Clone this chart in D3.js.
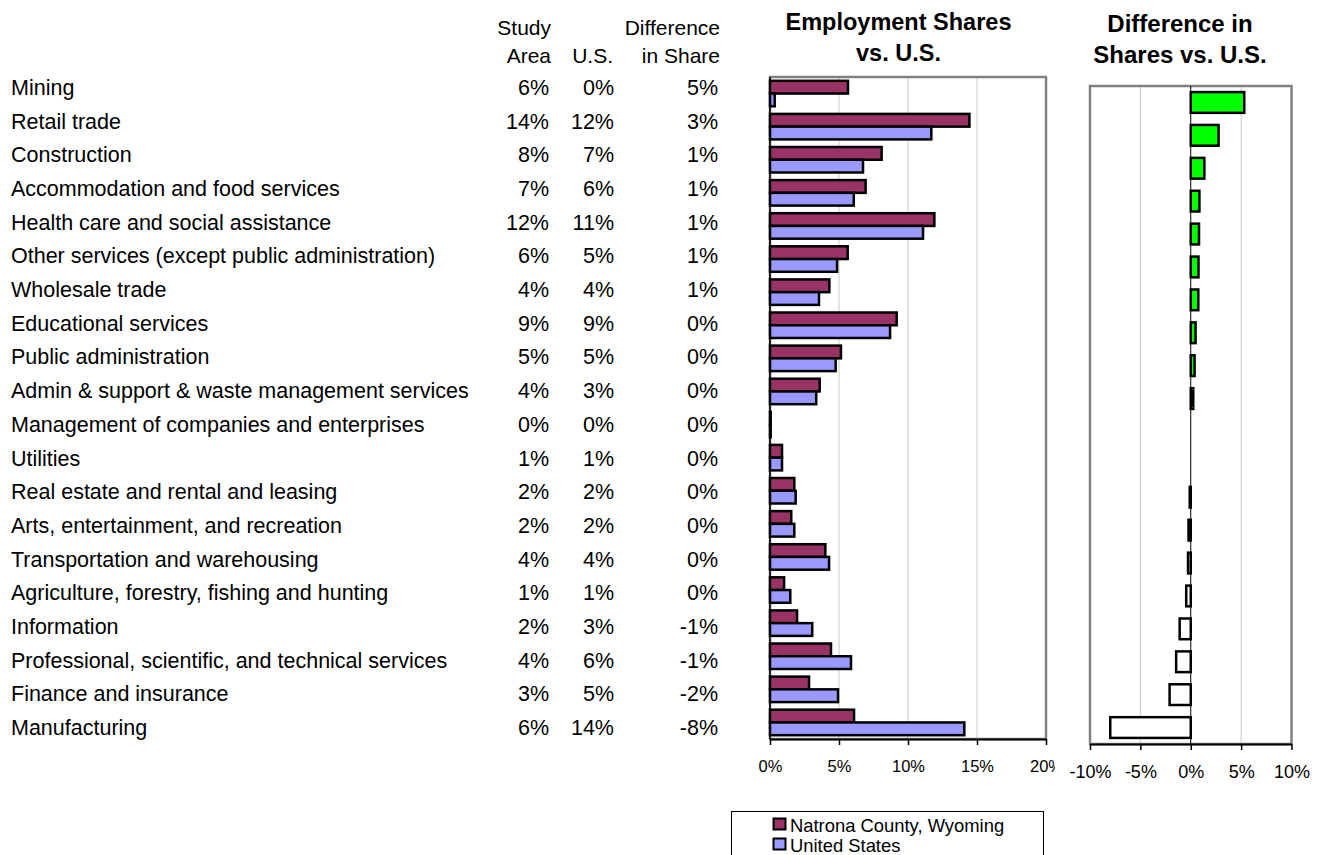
<!DOCTYPE html>
<html>
<head>
<meta charset="utf-8">
<script src="https://cdn.jsdelivr.net/npm/d3@7"></script>
<style>
  html, body { margin: 0; padding: 0; background: #ffffff; }
  svg { display: block; font-family: "Liberation Sans", Arial, Helvetica, sans-serif; }
</style>
</head>
<body>
<script>
// ---------------- DATA ----------------
const categories = [
  "Mining",
  "Retail trade",
  "Construction",
  "Accommodation and food services",
  "Health care and social assistance",
  "Other services (except public administration)",
  "Wholesale trade",
  "Educational services",
  "Public administration",
  "Admin & support & waste management services",
  "Management of companies and enterprises",
  "Utilities",
  "Real estate and rental and leasing",
  "Arts, entertainment, and recreation",
  "Transportation and warehousing",
  "Agriculture, forestry, fishing and hunting",
  "Information",
  "Professional, scientific, and technical services",
  "Finance and insurance",
  "Manufacturing"
];
// employment shares, percent
const studyArea = [5.65, 14.45, 8.09, 6.93, 11.91, 5.63, 4.30, 9.18, 5.14, 3.60, 0.05, 0.87, 1.76, 1.54, 4.01, 1.02, 1.96, 4.42, 2.83, 6.09];
const unitedStates = [0.34, 11.69, 6.74, 6.07, 11.09, 4.86, 3.55, 8.70, 4.76, 3.35, 0.05, 0.87, 1.86, 1.76, 4.28, 1.47, 3.06, 5.87, 4.93, 14.08];

const seriesNames = ["Natrona County, Wyoming", "United States"];
const sharesTicks = [0, 5, 10, 15, 20];
const diffTicks = [-10, -5, 0, 5, 10];
const colHeaders = [["Study", "Area"], ["", "U.S."], ["Difference", "in Share"]];
const titleShares = ["Employment Shares", "vs. U.S."];
const titleDiff = ["Difference in", "Shares vs. U.S."];

// ---------------- DRAW ----------------
const W = 1319, H = 855;
const svg = d3.select("body").append("svg").attr("width", W).attr("height", H);

const rows = categories.map((c, i) => ({
  cat: c, study: studyArea[i], us: unitedStates[i], diff: studyArea[i] - unitedStates[i]
}));
const pct = v => { const r = Math.round(v); return (r === 0 ? 0 : r) + "%"; };
const tickPct = d => d + "%";

// ---- table ----
const rowY = d3.scaleLinear().domain([0, categories.length - 1]).range([95, 735]);
const colX = [549, 614, 718];
const headX = [551, 613, 720];
const table = svg.append("g").attr("font-size", 21.5).attr("fill", "#000");

colHeaders.forEach((lines, j) => {
  lines.forEach((t, k) => {
    if (!t) return;
    table.append("text").attr("x", headX[j]).attr("y", 35 + k * 28.3)
      .attr("text-anchor", "end").attr("font-size", 21).text(t);
  });
});

table.selectAll("text.lab").data(rows).join("text").attr("class", "lab")
  .attr("x", 11).attr("y", (d, i) => rowY(i)).text(d => d.cat);

[["study", 0], ["us", 1], ["diff", 2]].forEach(([key, j]) => {
  table.selectAll("text.c" + j).data(rows).join("text").attr("class", "c" + j)
    .attr("x", colX[j]).attr("y", (d, i) => rowY(i)).attr("text-anchor", "end")
    .text(d => pct(d[key]));
});

// ---- left chart: shares ----
const L = { x0: 770, x1: 1046, y0: 77, y1: 739 };
const xL = d3.scaleLinear().domain([0, 20]).range([L.x0, L.x1]);
const yL = d3.scaleBand().domain(categories).range([L.y0, L.y1]).paddingInner(0.23).paddingOuter(0.115);
const ySub = d3.scaleBand().domain(["study", "us"]).range([0, yL.bandwidth()]);
const colors = { study: "#993366", us: "#9999FF" };

const gL = svg.append("g");
gL.append("g").selectAll("line").data(sharesTicks.filter(t => t > 0 && t < 20)).join("line")
  .attr("x1", d => xL(d)).attr("x2", d => xL(d)).attr("y1", L.y0).attr("y2", L.y1)
  .attr("stroke", "#c8c8c8").attr("stroke-width", 1);
gL.append("rect").attr("x", L.x0).attr("y", L.y0).attr("width", L.x1 - L.x0).attr("height", L.y1 - L.y0)
  .attr("fill", "none").attr("stroke", "#808080").attr("stroke-width", 2.5);

["study", "us"].forEach(k => {
  gL.append("g").selectAll("rect").data(rows).join("rect")
    .attr("x", xL(0)).attr("y", d => yL(d.cat) + ySub(k))
    .attr("width", d => xL(d[k]) - xL(0)).attr("height", ySub.bandwidth())
    .attr("fill", colors[k]).attr("stroke", "#000").attr("stroke-width", 2.5);
});
gL.append("line").attr("x1", L.x0).attr("x2", L.x0).attr("y1", L.y0).attr("y2", L.y1)
  .attr("stroke", "#000").attr("stroke-width", 1.5);

svg.append("clipPath").attr("id", "clipL").append("rect")
  .attr("x", 700).attr("y", -5).attr("width", 355).attr("height", 60);
const axL = gL.append("g").attr("transform", `translate(0,${L.y1})`).attr("clip-path", "url(#clipL)")
  .call(d3.axisBottom(xL).tickValues(sharesTicks).tickFormat(tickPct).tickSize(6).tickSizeOuter(0));
axL.select(".domain").attr("stroke", "#000").attr("stroke-width", 2);
axL.selectAll(".tick line").attr("stroke", "#000").attr("stroke-width", 1.5);
axL.selectAll(".tick text").attr("y", 33).attr("dy", null).attr("font-size", 16.5)
  .attr("font-family", "Liberation Sans, Arial, sans-serif").attr("fill", "#000");

gL.append("g").selectAll("text").data(titleShares).join("text")
  .attr("x", 898.5).attr("y", (d, i) => 29.5 + i * 31.5).attr("text-anchor", "middle")
  .attr("font-size", 23.5).attr("font-weight", "bold").text(d => d);

// ---- right chart: difference ----
const R = { x0: 1090, x1: 1291.5, y0: 86, y1: 744 };
const xR = d3.scaleLinear().domain([-10, 10]).range([R.x0, R.x1]);
const yR = d3.scaleBand().domain(categories).range([R.y0, R.y1]).paddingInner(0.37).paddingOuter(0.185);

const gR = svg.append("g");
gR.append("g").selectAll("line").data(diffTicks.filter(t => t !== 0 && Math.abs(t) < 10)).join("line")
  .attr("x1", d => xR(d)).attr("x2", d => xR(d)).attr("y1", R.y0).attr("y2", R.y1)
  .attr("stroke", "#c8c8c8").attr("stroke-width", 1);
gR.append("rect").attr("x", R.x0).attr("y", R.y0).attr("width", R.x1 - R.x0).attr("height", R.y1 - R.y0)
  .attr("fill", "none").attr("stroke", "#808080").attr("stroke-width", 2.5);
gR.append("line").attr("x1", xR(0)).attr("x2", xR(0)).attr("y1", R.y0).attr("y2", R.y1)
  .attr("stroke", "#000").attr("stroke-width", 1);
gR.append("g").selectAll("rect").data(rows).join("rect")
  .attr("x", d => xR(Math.min(0, d.diff))).attr("y", d => yR(d.cat))
  .attr("width", d => Math.abs(xR(d.diff) - xR(0))).attr("height", yR.bandwidth())
  .attr("fill", d => d.diff > 0 ? "#00FF00" : "#FFFFFF").attr("stroke", "#000").attr("stroke-width", 2.5);

const axR = gR.append("g").attr("transform", `translate(0,${R.y1})`)
  .call(d3.axisBottom(xR).tickValues(diffTicks).tickFormat(tickPct).tickSize(6).tickSizeOuter(0));
axR.select(".domain").attr("stroke", "#000").attr("stroke-width", 2);
axR.selectAll(".tick line").attr("stroke", "#000").attr("stroke-width", 1.5);
axR.selectAll(".tick text").attr("y", 34).attr("dy", null).attr("font-size", 18)
  .attr("font-family", "Liberation Sans, Arial, sans-serif").attr("fill", "#000");

gR.append("g").selectAll("text").data(titleDiff).join("text")
  .attr("x", 1180).attr("y", (d, i) => 31.5 + i * 31.5).attr("text-anchor", "middle")
  .attr("font-size", 24).attr("font-weight", "bold").text(d => d);

// ---- legend ----
const lg = svg.append("g");
lg.append("rect").attr("x", 731.5).attr("y", 811.5).attr("width", 312).attr("height", 60)
  .attr("fill", "#fff").attr("stroke", "#000").attr("stroke-width", 1);
const lgItems = lg.selectAll("g.item").data(["study", "us"]).join("g").attr("class", "item")
  .attr("transform", (d, i) => `translate(0,${i * 20})`);
lgItems.append("rect").attr("x", 773.5).attr("y", 818.5).attr("width", 12).attr("height", 11)
  .attr("fill", d => colors[d]).attr("stroke", "#000").attr("stroke-width", 2);
lgItems.append("text").attr("x", 790).attr("y", 831.5).attr("font-size", 18.4)
  .text((d, i) => seriesNames[i]);
</script>
</body>
</html>
